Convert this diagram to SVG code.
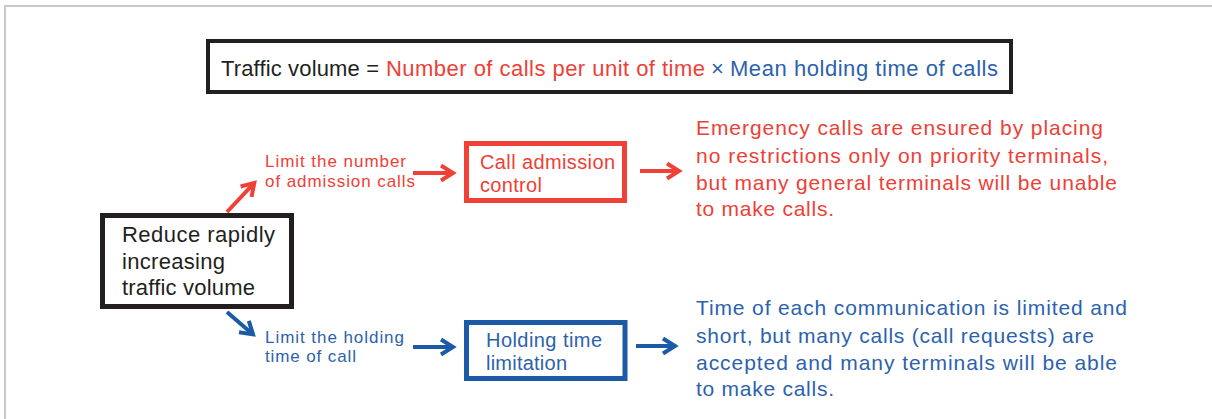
<svg xmlns="http://www.w3.org/2000/svg" width="1212" height="419" viewBox="0 0 1212 419">
<style>
  text { font-family: "Liberation Sans", Arial, sans-serif; }
  .blk { fill: #231f20; }
  .red { fill: #ee4036; }
  .blu { fill: #2c62ad; }
  .box { fill: #ffffff; stroke-width: 5; }
  .conn { fill: none; stroke-width: 4; }
  .f22 { font-size: 22px; }
  .f21 { font-size: 21px; }
  .f20 { font-size: 20px; }
  .f17 { font-size: 17px; }
</style>
<defs>
  <marker id="ahR" viewBox="0 0 16 18" markerUnits="userSpaceOnUse" markerWidth="16" markerHeight="18" refX="14" refY="9" orient="auto" overflow="visible">
    <path d="M2,1.5 L14,9 L2,16.5" fill="none" stroke="#ef4136" stroke-width="4"/>
  </marker>
  <marker id="ahB" viewBox="0 0 16 18" markerUnits="userSpaceOnUse" markerWidth="16" markerHeight="18" refX="14" refY="9" orient="auto" overflow="visible">
    <path d="M2,1.5 L14,9 L2,16.5" fill="none" stroke="#1c5aa8" stroke-width="4"/>
  </marker>
</defs>
<rect x="0" y="0" width="1212" height="419" fill="#ffffff"/>
<g id="frame" stroke="#c9c9c9" stroke-width="2" fill="none">
  <line x1="5" y1="6" x2="1212" y2="6"/>
  <line x1="5" y1="5" x2="5" y2="419"/>
</g>
<g id="formula">
  <rect x="208" y="41" width="803" height="51" fill="#ffffff" stroke="#231f20" stroke-width="4"/>
  <text class="blk f22" x="221" y="76" textLength="158" lengthAdjust="spacing">Traffic volume =</text>
  <text class="red f22" x="386" y="76" textLength="319" lengthAdjust="spacing">Number of calls per unit of time</text>
  <text class="blu f22" x="711" y="76">×</text>
  <text class="blu f22" x="730" y="76" textLength="268" lengthAdjust="spacing">Mean holding time of calls</text>
</g>
<g id="reduce">
  <rect class="box" x="102.5" y="215.5" width="189" height="91" stroke="#231f20"/>
  <text class="blk f22" x="122" y="242" textLength="153" lengthAdjust="spacing">Reduce rapidly</text>
  <text class="blk f22" x="122" y="268.5" textLength="103" lengthAdjust="spacing">increasing</text>
  <text class="blk f22" x="122" y="295" textLength="133" lengthAdjust="spacing">traffic volume</text>
</g>
<g id="label-number">
  <text class="red f17" x="265" y="166.5" textLength="141" lengthAdjust="spacing">Limit the number</text>
  <text class="red f17" x="265" y="186.5" textLength="150" lengthAdjust="spacing">of admission calls</text>
</g>
<g id="label-holding">
  <text class="blu f17" x="265" y="343" textLength="139" lengthAdjust="spacing">Limit the holding</text>
  <text class="blu f17" x="265" y="362" textLength="91" lengthAdjust="spacing">time of call</text>
</g>
<g id="cac">
  <rect class="box" x="466.5" y="143.5" width="158" height="57" stroke="#ef4136"/>
  <text class="red f20" x="480" y="168.5" textLength="135" lengthAdjust="spacing">Call admission</text>
  <text class="red f20" x="480" y="191.5" textLength="62" lengthAdjust="spacing">control</text>
</g>
<g id="htl">
  <rect class="box" x="466.5" y="322.5" width="158.5" height="56" stroke="#1c5aa8"/>
  <text class="blu f20" x="486" y="347" textLength="116" lengthAdjust="spacing">Holding time</text>
  <text class="blu f20" x="486" y="369.5" textLength="81" lengthAdjust="spacing">limitation</text>
</g>
<g id="result-red">
  <text class="red f21" x="696" y="135" textLength="407" lengthAdjust="spacing">Emergency calls are ensured by placing</text>
  <text class="red f21" x="696" y="162.5" textLength="412" lengthAdjust="spacing">no restrictions only on priority terminals,</text>
  <text class="red f21" x="696" y="189.5" textLength="421" lengthAdjust="spacing">but many general terminals will be unable</text>
  <text class="red f21" x="696" y="216" textLength="138" lengthAdjust="spacing">to make calls.</text>
</g>
<g id="result-blue">
  <text class="blu f21" x="696" y="315" textLength="431" lengthAdjust="spacing">Time of each communication is limited and</text>
  <text class="blu f21" x="696" y="342.5" textLength="398" lengthAdjust="spacing">short, but many calls (call requests) are</text>
  <text class="blu f21" x="696" y="369.5" textLength="421" lengthAdjust="spacing">accepted and many terminals will be able</text>
  <text class="blu f21" x="696" y="396" textLength="138" lengthAdjust="spacing">to make calls.</text>
</g>
<g id="connectors">
  <line class="conn" stroke="#ef4136" x1="227" y1="212" x2="254.3" y2="182.9" marker-end="url(#ahR)"/>
  <line class="conn" stroke="#ef4136" x1="413" y1="173" x2="453" y2="173" marker-end="url(#ahR)"/>
  <line class="conn" stroke="#ef4136" x1="640" y1="171" x2="679" y2="171" marker-end="url(#ahR)"/>
  <line class="conn" stroke="#1c5aa8" x1="227" y1="312" x2="253" y2="334.4" marker-end="url(#ahB)"/>
  <line class="conn" stroke="#1c5aa8" x1="413" y1="347" x2="453" y2="347" marker-end="url(#ahB)"/>
  <line class="conn" stroke="#1c5aa8" x1="636" y1="346" x2="675" y2="346" marker-end="url(#ahB)"/>
</g>
</svg>
